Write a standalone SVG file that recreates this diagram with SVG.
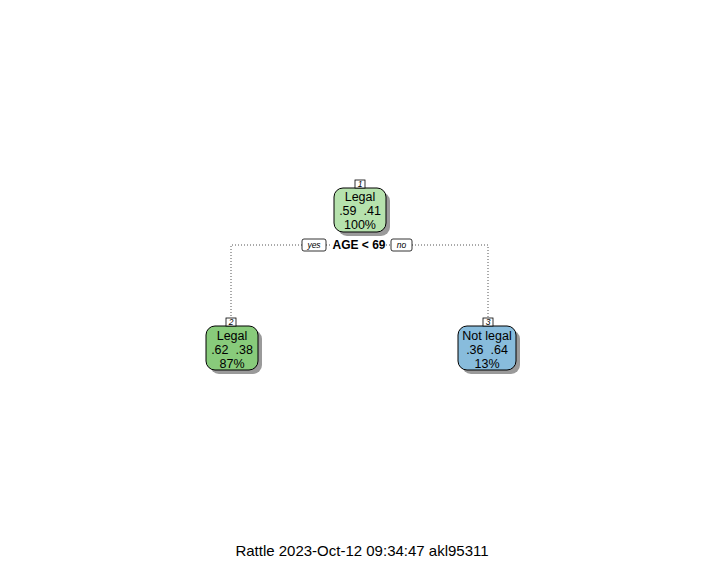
<svg xmlns="http://www.w3.org/2000/svg" width="720" height="576" viewBox="0 0 720 576" xml:space="preserve">
<style>
text{font-family:"Liberation Sans",Arial,sans-serif;fill:#000;white-space:pre}
.nt{font-size:12.5px;text-anchor:middle}
.lab{font-size:8.5px;font-style:italic;text-anchor:middle}
.box{stroke:#000;stroke-width:1}
.sh{fill:#9a9a9a}
.lb{fill:#fff;stroke:#000;stroke-width:0.8}
.dot{fill:none;stroke:#555;stroke-width:1;stroke-dasharray:1 2}
</style>
<rect width="720" height="576" fill="#fff"/>
<g id="connectors">
<path class="dot" d="M302 245 H231 V318"/>
<path class="dot" d="M412 245 H488 V318"/>
<path class="dot" d="M326 245 H332"/>
<path class="dot" d="M386 245 H391"/>
</g>
<g id="node1">
<rect class="sh" x="338" y="192" width="52" height="44" rx="9"/>
<rect class="box" x="334" y="188" width="52" height="44" rx="9" fill="#b6e2ad"/>
<rect class="lb" x="355" y="180" width="10" height="8"/>
<text class="lab" x="360" y="187">1</text>
<text class="nt" x="360" y="201">Legal</text>
<text class="nt" x="360" y="215">.59  .41</text>
<text class="nt" x="360" y="229">100%</text>
</g>
<g id="split">
<rect class="lb" x="302" y="239" width="24" height="12" rx="2"/>
<text class="lab" x="314" y="248">yes</text>
<text x="359" y="249" font-size="12" font-weight="bold" text-anchor="middle">AGE &lt; 69</text>
<rect class="lb" x="391" y="239" width="21" height="12" rx="2"/>
<text class="lab" x="401.5" y="248">no</text>
</g>
<g id="node2">
<rect class="sh" x="210" y="330" width="52" height="44" rx="9"/>
<rect class="box" x="206" y="326" width="52" height="44" rx="9" fill="#88cb7b"/>
<rect class="lb" x="226" y="318" width="10" height="8"/>
<text class="lab" x="231" y="325">2</text>
<text class="nt" x="232" y="340">Legal</text>
<text class="nt" x="232" y="354">.62  .38</text>
<text class="nt" x="232" y="368">87%</text>
</g>
<g id="node3">
<rect class="sh" x="462" y="330" width="58" height="44" rx="9"/>
<rect class="box" x="458" y="326" width="58" height="44" rx="9" fill="#88bcdc"/>
<rect class="lb" x="483" y="318" width="10" height="8"/>
<text class="lab" x="488" y="325">3</text>
<text class="nt" x="487" y="340">Not legal</text>
<text class="nt" x="487" y="354">.36  .64</text>
<text class="nt" x="487" y="368">13%</text>
</g>
<text x="362" y="556" font-size="15" text-anchor="middle">Rattle 2023-Oct-12 09:34:47 akl95311</text>
</svg>
